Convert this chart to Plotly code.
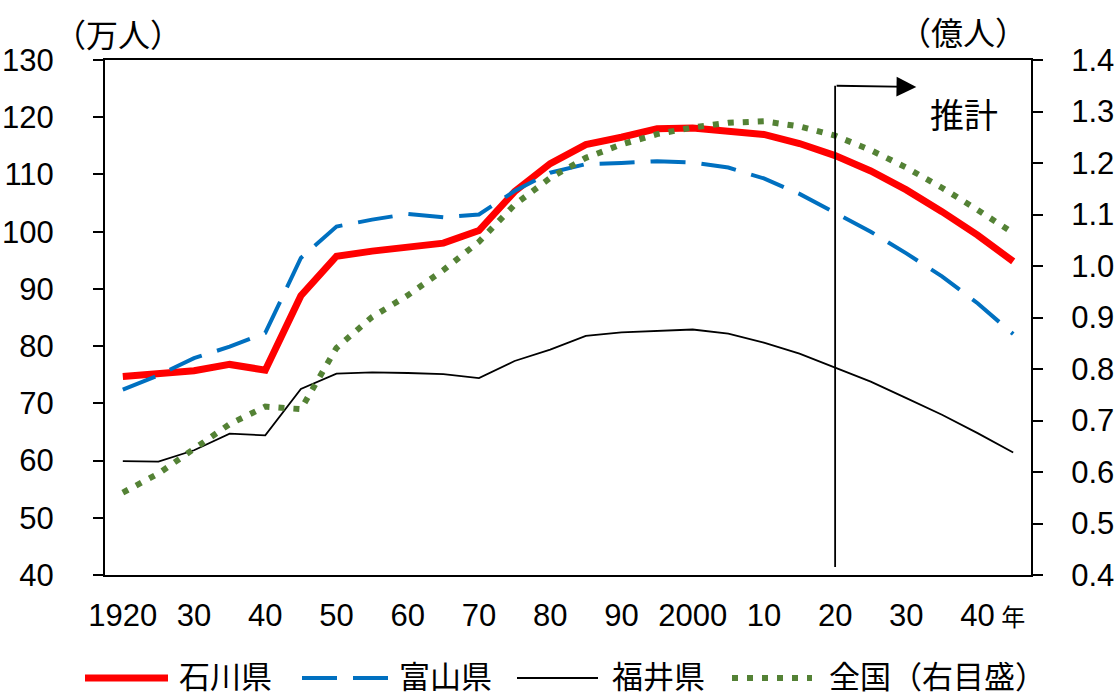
import plotly.graph_objects as go

# Census years and projections (every 5 years)
years = list(range(1920, 2050, 5))

# Prefectural population, 万人
ishikawa = [74.7, 75.1, 75.7, 76.8, 75.8, 88.8, 95.7, 96.6, 97.3, 98.0, 100.2, 107.0, 111.9,
            115.2, 116.5, 118.0, 118.1, 117.4, 117.0, 115.4, 113.3, 110.6, 107.3, 103.5, 99.4, 94.8]
toyama = [72.4, 74.9, 77.9, 79.9, 82.3, 95.4, 100.9, 102.1, 103.1, 102.5, 103.0, 107.1, 110.3,
          111.8, 112.0, 112.3, 112.1, 111.2, 109.3, 106.6, 103.3, 100.0, 96.2, 92.2, 87.5, 82.1]
fukui = [59.9, 59.8, 61.8, 64.7, 64.4, 72.5, 75.2, 75.4, 75.3, 75.1, 74.4, 77.4, 79.4,
         81.8, 82.4, 82.7, 82.9, 82.2, 80.6, 78.7, 76.3, 73.8, 70.9, 68.0, 64.8, 61.4]
# National population, 億人 (right axis)
japan = [0.560, 0.597, 0.645, 0.693, 0.727, 0.722, 0.841, 0.901, 0.943, 0.992, 1.047, 1.119, 1.171,
         1.210, 1.236, 1.256, 1.269, 1.278, 1.281, 1.271, 1.253, 1.225, 1.191, 1.152, 1.109, 1.064]

series_names = ["石川県", "富山県", "福井県", "全国（右目盛）"]
projection_start = 2020

tick_years = [1920, 1930, 1940, 1950, 1960, 1970, 1980, 1990, 2000, 2010, 2020, 2030, 2040, 2045]
tick_text = ["1920", "30", "40", "50", "60", "70", "80", "90", "2000", "10", "20", "30", "40",
             "<span style=\"font-size:24px;font-family:Noto Sans CJK JP\">年</span>"]

NUM_FONT = "Liberation Sans, Arial, sans-serif"
JP_FONT = "Noto Sans CJK JP, Noto Sans CJK SC, sans-serif"
NUM_SIZE = 31

RED = "#FF0000"
BLUE = "#0070C0"
GREEN = "#548235"
BLACK = "#000000"

styles = [
    dict(color=RED, width=7, dash="solid"),
    dict(color=BLUE, width=4, dash="35px,16px"),
    dict(color=BLACK, width=1.8, dash="solid"),
    dict(color=GREEN, width=6, dash="6px,9px"),
]

W, H = 1115, 700
ML, MR, MT, MB = 105, 84, 60, 125
PW, PH = W - ML - MR, H - MT - MB


def px(x):
    return (x - ML) / PW


def py(y):
    return (H - MB - y) / PH


fig = go.Figure()
fig.add_trace(go.Scatter(x=years, y=ishikawa, name=series_names[0], mode="lines",
                         line=styles[0], showlegend=False))
fig.add_trace(go.Scatter(x=years, y=toyama, name=series_names[1], mode="lines",
                         line=styles[1], showlegend=False))
fig.add_trace(go.Scatter(x=years, y=fukui, name=series_names[2], mode="lines",
                         line=styles[2], showlegend=False))
fig.add_trace(go.Scatter(x=years, y=japan, name=series_names[3], mode="lines",
                         line=styles[3], yaxis="y2", showlegend=False))

x_range = [years[0] - 2.5, years[-1] + 2.5]
boundaries = [y + 2.5 for y in years[:-1]]

fig.update_layout(
    width=W, height=H,
    margin=dict(l=ML, r=MR, t=MT, b=MB, pad=0, autoexpand=False),
    paper_bgcolor="white", plot_bgcolor="white",
    showlegend=False,
    xaxis=dict(
        range=x_range, tickmode="array", tickvals=tick_years, ticktext=tick_text,
        ticks="", showgrid=False, zeroline=False, automargin=False,
        showline=True, linecolor=BLACK, linewidth=2, mirror=True,
        tickfont=dict(family=NUM_FONT, size=NUM_SIZE, color=BLACK),
        ticklabelstandoff=12,
    ),
    xaxis2=dict(
        range=x_range, overlaying="x", anchor="y", side="bottom", automargin=False,
        tickmode="array", tickvals=boundaries, ticks="inside", ticklen=9,
        tickwidth=2, tickcolor=BLACK, showticklabels=False,
        showgrid=False, zeroline=False, showline=False,
    ),
    yaxis=dict(
        range=[40, 130], tickmode="linear", tick0=40, dtick=10,
        ticks="outside", ticklen=10, tickwidth=2, tickcolor=BLACK,
        showgrid=False, zeroline=False, automargin=False,
        showline=True, linecolor=BLACK, linewidth=2,
        tickfont=dict(family=NUM_FONT, size=NUM_SIZE, color=BLACK),
        ticklabelstandoff=33,
    ),
    yaxis2=dict(
        range=[0.4, 1.4], tickmode="linear", tick0=0.4, dtick=0.1, tickformat=".1f",
        overlaying="y", side="right", automargin=False,
        ticks="outside", ticklen=10, tickwidth=2, tickcolor=BLACK,
        showgrid=False, zeroline=False,
        showline=True, linecolor=BLACK, linewidth=2,
        tickfont=dict(family=NUM_FONT, size=NUM_SIZE, color=BLACK),
        ticklabelstandoff=22,
    ),
)

# Projection marker: vertical line at 2020 with arrow pointing to the projected period
fig.add_shape(type="line", xref="x", yref="y", x0=projection_start, x1=projection_start,
              y0=41.4, y1=125.5, line=dict(color=BLACK, width=1.8), layer="above")
fig.add_annotation(xref="x", yref="y", axref="x", ayref="y",
                   x=2031.4, y=125.3, ax=projection_start, ay=125.5,
                   text="", showarrow=True, arrowhead=2, arrowsize=2.2, arrowwidth=1.8,
                   arrowcolor=BLACK, standoff=0, startstandoff=0)
fig.add_annotation(xref="paper", yref="paper", x=px(964), y=py(114), text="推計",
                   showarrow=False, xanchor="center", yanchor="middle",
                   font=dict(family=JP_FONT, size=34, color=BLACK))

# Axis unit labels
fig.add_annotation(xref="paper", yref="paper", x=px(118), y=py(33), text="（万人）",
                   showarrow=False, xanchor="center", yanchor="middle",
                   font=dict(family=JP_FONT, size=32, color=BLACK))
fig.add_annotation(xref="paper", yref="paper", x=px(963), y=py(31), text="（億人）",
                   showarrow=False, xanchor="center", yanchor="middle",
                   font=dict(family=JP_FONT, size=32, color=BLACK))

# Legend row: sample line + label for each series
legend_items = [
    (85, 168, 177),
    (302, 388, 397),
    (517, 598, 610),
    (732, 812, 827),
]
legend_y = 674
for (x0, x1, xt), name, st in zip(legend_items, series_names, styles):
    fig.add_shape(type="line", xref="paper", yref="paper",
                  x0=px(x0), x1=px(x1), y0=py(legend_y + 4), y1=py(legend_y + 4),
                  line=dict(color=st["color"], width=st["width"], dash=st["dash"]))
    fig.add_annotation(xref="paper", yref="paper", x=px(xt), y=py(legend_y), text=name,
                       showarrow=False, xanchor="left", yanchor="middle",
                       font=dict(family=JP_FONT, size=31, color=BLACK))

fig.write_html("out.html")
